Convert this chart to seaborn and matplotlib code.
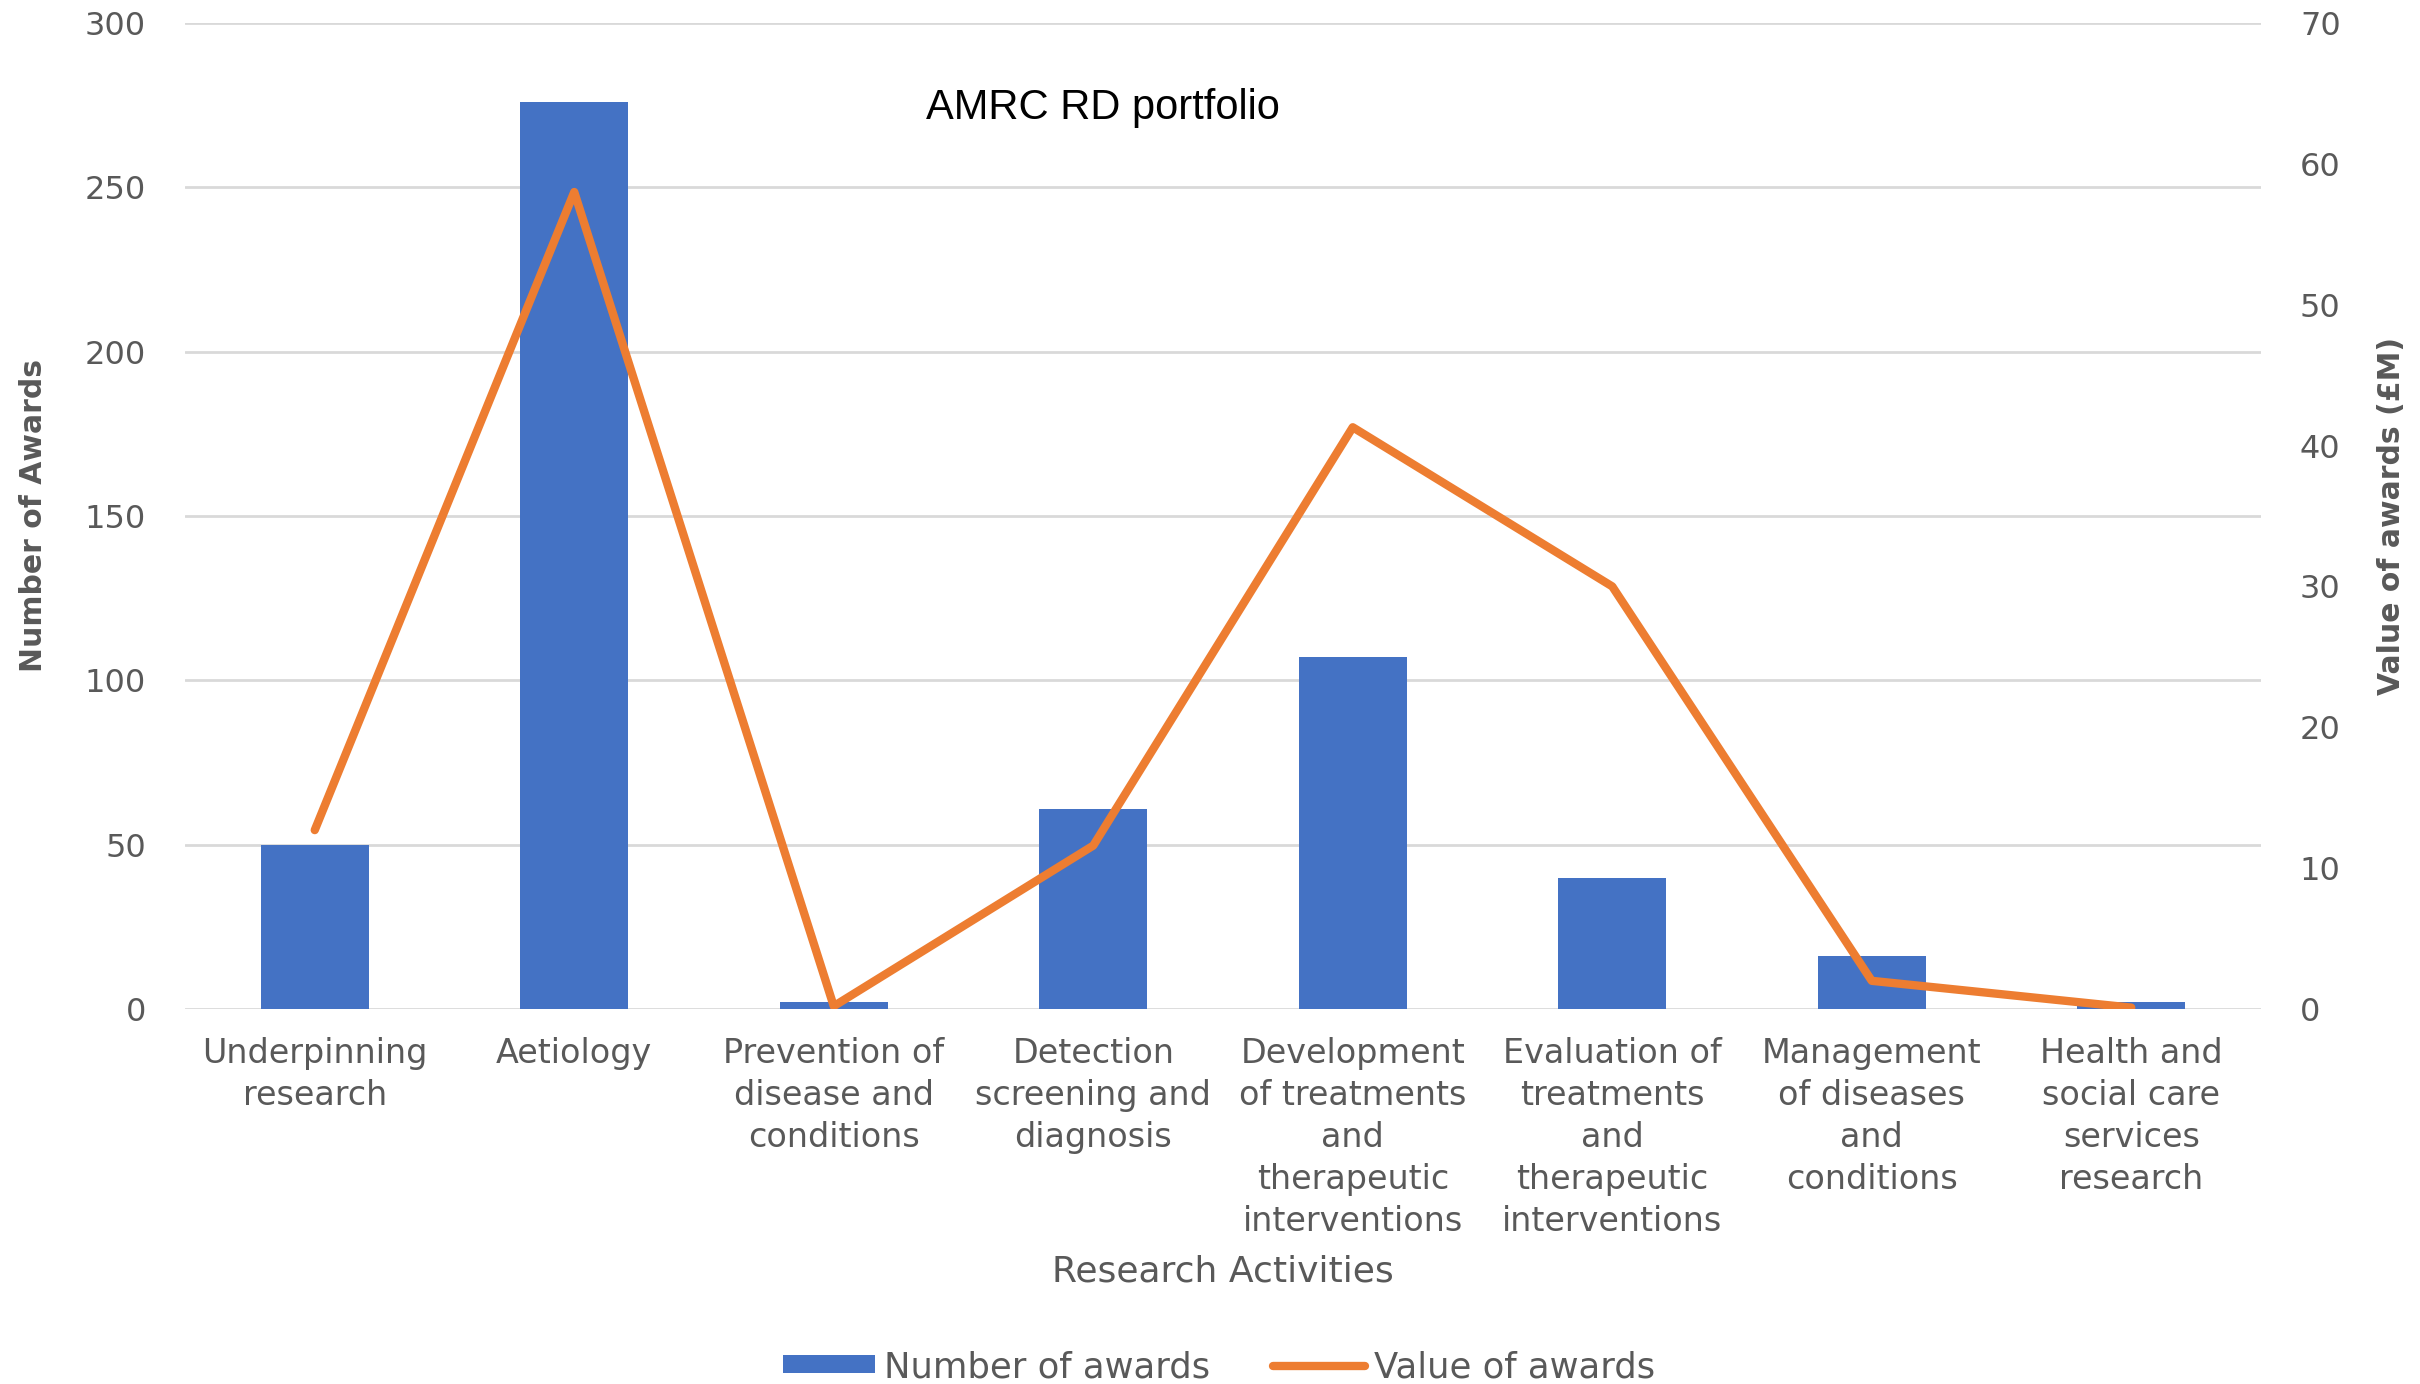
import numpy as np
import pandas as pd
import matplotlib
matplotlib.use("Agg")
import matplotlib.pyplot as plt
from matplotlib import font_manager
import seaborn as sns

# ---------------- data ----------------
categories = [
    "Underpinning\nresearch",
    "Aetiology",
    "Prevention of\ndisease and\nconditions",
    "Detection\nscreening and\ndiagnosis",
    "Development\nof treatments\nand\ntherapeutic\ninterventions",
    "Evaluation of\ntreatments\nand\ntherapeutic\ninterventions",
    "Management\nof diseases\nand\nconditions",
    "Health and\nsocial care\nservices\nresearch",
]
number_of_awards = [50, 276, 2, 61, 107, 40, 16, 2]
value_of_awards = [12.7, 58.0, 0.2, 11.6, 41.3, 30.0, 2.0, 0.1]
left_ticks = [0, 50, 100, 150, 200, 250, 300]
right_ticks = [0, 10, 20, 30, 40, 50, 60, 70]

# ---------------- style ----------------
sns.set_theme(style="white")
plt.rcParams["font.family"] = ["DejaVu Sans"]

available = {f.name for f in font_manager.fontManager.ttflist}
if "Liberation Sans Narrow" in available:
    ylab_family, ylab_size = "Liberation Sans Narrow", 28
else:
    ylab_family, ylab_size = "DejaVu Sans", 21.5

BLUE = "#4472C4"
ORANGE = "#ED7D31"
GRID = "#D9D9D9"
TXT = "#595959"

fig = plt.figure(figsize=(24.2, 13.84), dpi=100)
ax = fig.add_axes([185 / 2420, 1 - 1009 / 1384, 2076 / 2420, 986 / 1384])

df = pd.DataFrame({"cat": categories, "n": number_of_awards, "v": value_of_awards})

sns.barplot(data=df, x="cat", y="n", color=BLUE, saturation=1, width=0.417,
            ax=ax, label="Number of awards", linewidth=0)
if ax.get_legend() is not None:
    ax.get_legend().remove()
ax.set_xlim(-0.5, len(categories) - 0.5)
ax.set_ylim(0, 300)
ax.set_yticks(left_ticks)
ax.grid(axis="y", color=GRID, linewidth=2)
ax.grid(axis="x", visible=False)
ax.set_axisbelow(True)
for s in ax.spines.values():
    s.set_visible(False)
ax.tick_params(axis="both", length=0, colors=TXT, labelsize=23)
ax.tick_params(axis="y", pad=28)
ax.tick_params(axis="x", pad=20, labelsize=24)
for lbl in ax.get_xticklabels():
    lbl.set_linespacing(1.35)
    lbl.set_multialignment("center")

ax.set_xlabel("Research Activities", fontsize=26, color=TXT)
ax.xaxis.set_label_coords(0.5, (1009 - 1272) / 986)
ax.xaxis.label.set_va("center")
ax.set_ylabel("Number of Awards", fontsize=ylab_size, color=TXT,
              fontweight="bold", family=ylab_family)
ax.yaxis.set_label_coords((34 - 185) / 2076, 0.5)
ax.yaxis.label.set_va("center")

ax2 = ax.twinx()
sns.lineplot(x=np.arange(len(categories)), y=value_of_awards, ax=ax2, color=ORANGE,
             linewidth=6, label="Value of awards", legend=False,
             solid_capstyle="round", solid_joinstyle="round")
ax2.set_ylim(0, 70)
ax2.set_yticks(right_ticks)
ax2.grid(False)
for s in ax2.spines.values():
    s.set_visible(False)
ax2.tick_params(axis="y", length=0, colors=TXT, labelsize=23, pad=28)
ax2.set_ylabel("Value of awards (£M)", fontsize=ylab_size, color=TXT,
               fontweight="bold", family=ylab_family)
ax2.yaxis.set_label_coords((2392 - 185) / 2076, 0.5)
ax2.yaxis.label.set_va("center")

fig.text(1103 / 2420, 1 - 108 / 1384, "AMRC RD portfolio", fontsize=30,
         color="black", family="Liberation Sans", ha="center", va="center")

h1, l1 = ax.get_legend_handles_labels()
h2, l2 = ax2.get_legend_handles_labels()
fig.legend(h1 + h2, l1 + l2, loc="center", bbox_to_anchor=(1219 / 2420, 1 - 1367 / 1384),
           ncol=2, frameon=False, fontsize=25.5, labelcolor=TXT,
           handlelength=2.6, handleheight=0.4, handletextpad=0.25, columnspacing=1.8)

fig.savefig("out.png", dpi=100)
